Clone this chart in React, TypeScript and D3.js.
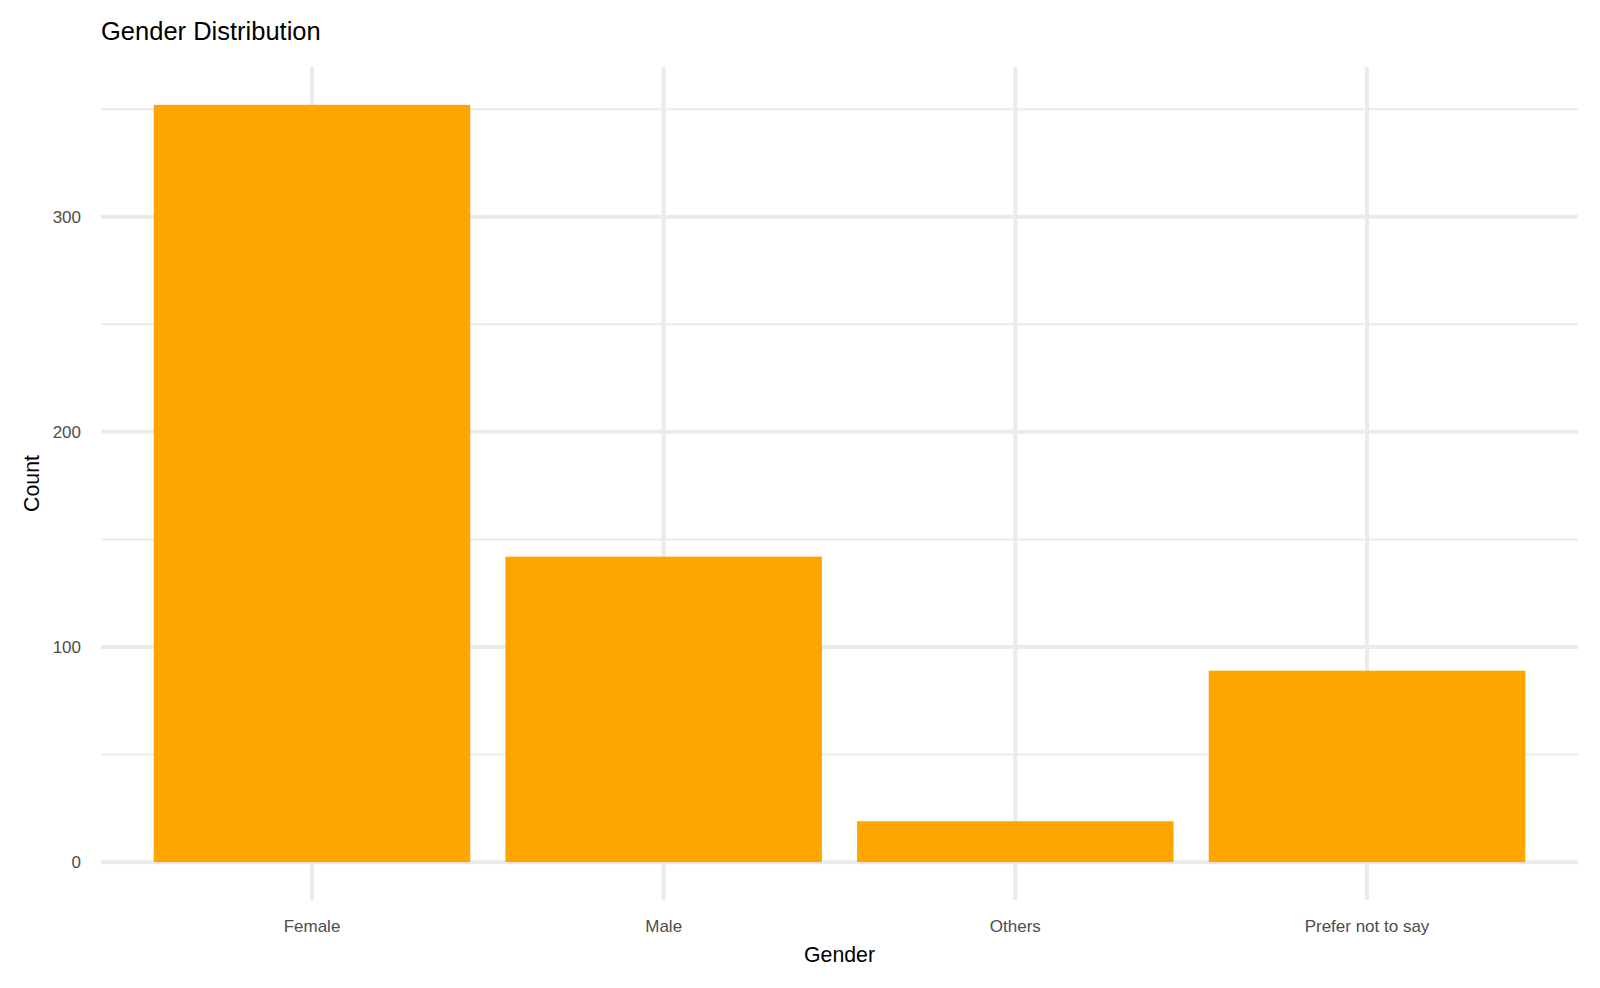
import React from "react";
import * as d3 from "d3";

const categories = ["Female", "Male", "Others", "Prefer not to say"];
const counts = [352, 142, 19, 89];
const yTicks = [0, 100, 200, 300];
const yMinorTicks = [50, 150, 250, 350];

const W = 1600;
const H = 988;
const panel = { left: 101, right: 1578, top: 67, bottom: 900 };

export default function App() {
  const n = categories.length;
  const x = d3
    .scaleLinear()
    .domain([0.4, n + 0.6])
    .range([panel.left, panel.right]);
  const maxV = d3.max(counts) as number;
  const y = d3
    .scaleLinear()
    .domain([-0.05 * maxV, maxV * 1.05])
    .range([panel.bottom, panel.top]);
  const barW = x(1.45) - x(0.55);
  const font = "'Liberation Sans', Arial, sans-serif";

  return (
    <svg
      width={W}
      height={H}
      style={{ position: "absolute", left: 0, top: 0, background: "#fff" }}
      fontFamily={font}
    >
      <rect x={0} y={0} width={W} height={H} fill="#fff" />
      {yMinorTicks.map((t) => (
        <line
          key={"m" + t}
          x1={panel.left}
          x2={panel.right}
          y1={y(t)}
          y2={y(t)}
          stroke="#EBEBEB"
          strokeWidth={2}
        />
      ))}
      {yTicks.map((t) => (
        <line
          key={"y" + t}
          x1={panel.left}
          x2={panel.right}
          y1={y(t)}
          y2={y(t)}
          stroke="#EBEBEB"
          strokeWidth={4}
        />
      ))}
      {categories.map((c, i) => (
        <line
          key={"x" + c}
          x1={x(i + 1)}
          x2={x(i + 1)}
          y1={panel.top}
          y2={panel.bottom}
          stroke="#EBEBEB"
          strokeWidth={4}
        />
      ))}
      {categories.map((c, i) => (
        <rect
          key={"b" + c}
          x={x(i + 1) - barW / 2}
          width={barW}
          y={y(counts[i])}
          height={y(0) - y(counts[i])}
          fill="#FFA500"
        />
      ))}
      {yTicks.map((t) => (
        <text
          key={"yl" + t}
          x={81}
          y={y(t)}
          dy="0.36em"
          textAnchor="end"
          fontSize={17}
          fill="#4D4D4D"
        >
          {t}
        </text>
      ))}
      {categories.map((c, i) => (
        <text
          key={"xl" + c}
          x={x(i + 1)}
          y={931.5}
          textAnchor="middle"
          fontSize={17}
          fill="#4D4D4D"
        >
          {c}
        </text>
      ))}
      <text
        x={(panel.left + panel.right) / 2}
        y={961.5}
        textAnchor="middle"
        fontSize={21.3}
        fill="#000"
      >
        Gender
      </text>
      <text
        transform={`translate(38.5, ${(panel.top + panel.bottom) / 2}) rotate(-90)`}
        textAnchor="middle"
        fontSize={21.3}
        fill="#000"
      >
        Count
      </text>
      <text x={101} y={40} fontSize={25.5} fill="#000">
        Gender Distribution
      </text>
    </svg>
  );
}
